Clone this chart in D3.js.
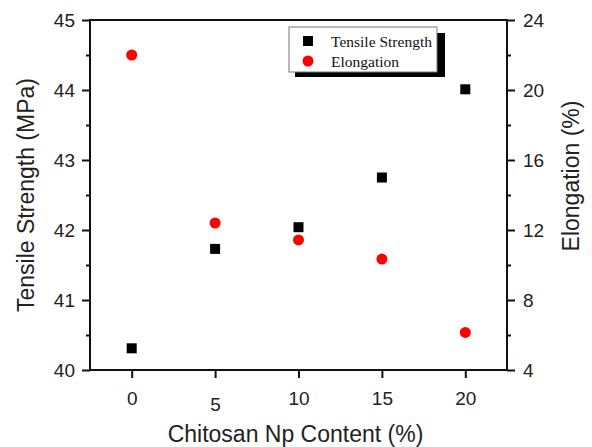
<!DOCTYPE html>
<html>
<head>
<meta charset="utf-8">
<script src="https://cdn.jsdelivr.net/npm/d3@7"></script>
<style>
  body { margin: 0; background: #fff; }
  svg { display: block; font-family: "Liberation Sans", Arial, sans-serif; }
  .tick text { font-size: 19px; fill: #222; }
  .title { font-size: 23px; fill: #222; }
  .legend text { font-family: "Liberation Serif", "Times New Roman", serif; font-size: 15.5px; fill: #111; }
</style>
</head>
<body>
<svg id="chart"></svg>
<script>
// data
const content = [0, 5, 10, 15, 20];
const tensile = [40.31, 41.73, 42.04, 42.75, 44.01];
const elongation = [22.0, 12.4, 11.43, 10.34, 6.15];

const xTicks = [0, 5, 10, 15, 20];
const leftTicks = [40, 41, 42, 43, 44, 45];
const leftMinor = [40.5, 41.5, 42.5, 43.5, 44.5];
const rightTicks = [4, 8, 12, 16, 20, 24];
const rightMinor = [6, 10, 14, 18, 22];

const width = 592, height = 447;
const m = { left: 90, right: 507, top: 20, bottom: 370 };

const svg = d3.select("#chart").attr("width", width).attr("height", height);

const x = d3.scaleLinear().domain([-2.5, 22.5]).range([m.left, m.right]);
const yL = d3.scaleLinear().domain([40, 45]).range([m.bottom, m.top]);
const yR = d3.scaleLinear().domain([4, 24]).range([m.bottom, m.top]);
const fmt = d3.format("d");

// axes
function styleAxis(g) {
  g.select(".domain").remove();
  g.selectAll(".tick line").attr("stroke", "#111").attr("stroke-width", 2);
}

svg.append("g")
  .attr("transform", `translate(0,${m.bottom})`)
  .call(d3.axisBottom(x).tickValues(xTicks).tickFormat(fmt).tickSize(8).tickPadding(14))
  .call(styleAxis)
  .call(g => g.selectAll(".tick text").attr("dy", (d) => d === 5 ? "1.0em" : "0.71em"));

svg.append("g")
  .attr("transform", `translate(${m.left},0)`)
  .call(d3.axisLeft(yL).tickValues(leftTicks).tickFormat(fmt).tickSize(8).tickPadding(7))
  .call(styleAxis);
svg.append("g")
  .attr("transform", `translate(${m.left},0)`)
  .call(d3.axisLeft(yL).tickValues(leftMinor).tickSize(4).tickFormat(""))
  .call(styleAxis);

svg.append("g")
  .attr("transform", `translate(${m.right},0)`)
  .call(d3.axisRight(yR).tickValues(rightTicks).tickFormat(fmt).tickSize(8).tickPadding(8))
  .call(styleAxis);
svg.append("g")
  .attr("transform", `translate(${m.right},0)`)
  .call(d3.axisRight(yR).tickValues(rightMinor).tickSize(4).tickFormat(""))
  .call(styleAxis);

// frame
svg.append("rect")
  .attr("x", m.left).attr("y", m.top)
  .attr("width", m.right - m.left).attr("height", m.bottom - m.top)
  .attr("fill", "none").attr("stroke", "#111").attr("stroke-width", 2);

// titles
svg.append("text").attr("class", "title")
  .attr("x", (m.left + m.right) / 2 - 3).attr("y", 442)
  .attr("text-anchor", "middle")
  .text("Chitosan Np Content (%)");

svg.append("text").attr("class", "title")
  .attr("transform", "translate(34,195) rotate(-90)")
  .attr("text-anchor", "middle")
  .text("Tensile Strength (MPa)");

svg.append("text").attr("class", "title")
  .attr("transform", "translate(579,176) rotate(-90)")
  .attr("text-anchor", "middle")
  .text("Elongation (%)");

// points
const sq = 10;
svg.append("g").selectAll("rect")
  .data(content)
  .join("rect")
  .attr("x", (d) => x(d) - sq / 2)
  .attr("y", (d, i) => yL(tensile[i]) - sq / 2)
  .attr("width", sq).attr("height", sq)
  .attr("fill", "#000");

svg.append("g").selectAll("circle")
  .data(content)
  .join("circle")
  .attr("cx", (d) => x(d))
  .attr("cy", (d, i) => yR(elongation[i]))
  .attr("r", 5.5)
  .attr("fill", "#f00");

// legend
const lg = svg.append("g").attr("class", "legend");
lg.append("rect").attr("x", 295).attr("y", 33).attr("width", 150).attr("height", 44).attr("fill", "#000");
lg.append("rect").attr("x", 289).attr("y", 27).attr("width", 148).attr("height", 45)
  .attr("fill", "#fff").attr("stroke", "#777").attr("stroke-width", 1);
lg.append("rect").attr("x", 303).attr("y", 36).attr("width", 10).attr("height", 10).attr("fill", "#000");
lg.append("circle").attr("cx", 308).attr("cy", 61).attr("r", 5.5).attr("fill", "#f00");
lg.append("text").attr("x", 331).attr("y", 47).text("Tensile Strength");
lg.append("text").attr("x", 331).attr("y", 67).text("Elongation");
</script>
</body>
</html>
